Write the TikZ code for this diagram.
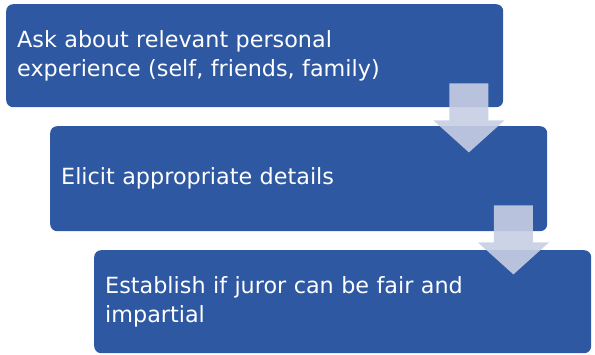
\documentclass[tikz,border=0pt]{standalone}
\usepackage{fontspec}
\setmainfont{DejaVu Sans}
\usetikzlibrary{calc}
\definecolor{stepBlue}{HTML}{2E58A2}
\definecolor{arrowLilac}{HTML}{C8CEE4}

\tikzset{
  downarrow/.pic={
    \fill[arrowLilac, fill opacity=0.9]
      (-19.5,0) -- (19.5,0) -- (19.5,37) -- (35.5,37) -- (0,69)
      -- (-35.5,37) -- (-19.5,37) -- cycle;
  }
}

\begin{document}
\begin{tikzpicture}[x=1pt, y=-1pt,
    stepbox/.style={rectangle, rounded corners=7pt, fill=stepBlue,
                    text=white, inner xsep=11pt, inner ysep=0pt,
                    font=\fontsize{22.3}{29}\selectfont, align=left,
                    text width=#1, anchor=north west},
  ]
    \useasboundingbox (0,0) rectangle (595,355);

    % the three steps, each one shifted to the right
    \node[stepbox=475pt, minimum height=103pt] (ask) at (6,4)
      {Ask about relevant personal\\experience (self, friends, family)};
    \node[stepbox=475pt, minimum height=105pt] (elicit) at (50,126)
      {Elicit appropriate details};
    \node[stepbox=475pt, minimum height=103pt] (fair) at (94,250)
      {Establish if juror can be fair and\\impartial};

    % arrows between the steps
    \pic at ($(ask.south east)+(-34.5,-24)$) {downarrow};
    \pic at ($(elicit.south east)+(-34,-26)$) {downarrow};
  \end{tikzpicture}
\end{document}
